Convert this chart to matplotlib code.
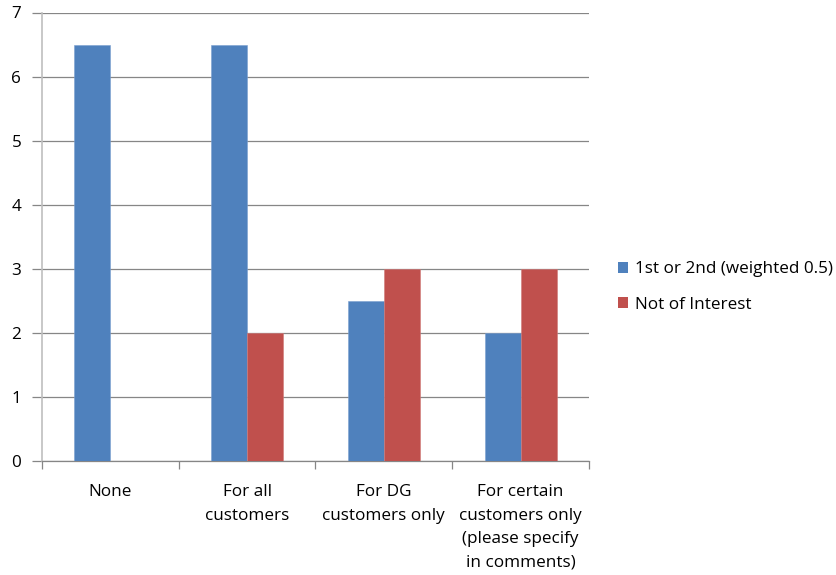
import matplotlib
matplotlib.use("Agg")
import matplotlib.pyplot as plt
import numpy as np
from matplotlib.patches import Patch

plt.rcParams['font.family'] = ['Open Sans', 'DejaVu Sans']

categories = ["None", "For all\ncustomers", "For DG\ncustomers only",
              "For certain\ncustomers only\n(please specify\nin comments)"]
series_names = ["1st or 2nd (weighted 0.5)", "Not of Interest"]
weighted = [6.5, 6.5, 2.5, 2.0]
not_interest = [0, 2, 3, 3]
y_ticks = [0, 1, 2, 3, 4, 5, 6, 7]

blue = "#4F81BD"
red = "#C0504D"
grid_gray = "#868686"
fs = 12.3

fig = plt.figure(figsize=(8.37, 5.75), dpi=100)
ax = fig.add_axes([42/837, 1-461/575, (589-42)/837, (461-12.5)/575])

x = np.arange(len(categories)) + 0.5
w = 0.263
ax.bar(x - w/2, weighted, width=w, color=blue, edgecolor="#7A9FD0", linewidth=0.4, zorder=3)
ax.bar(x + w/2, not_interest, width=w, color=red, edgecolor="#D07A78", linewidth=0.4, zorder=3)

ax.set_xlim(0, 4)
ax.set_ylim(0, 7)
ax.set_yticks(y_ticks)
ax.set_yticklabels([str(t) for t in y_ticks], fontsize=fs, color="#000000")
ax.yaxis.grid(True, color=grid_gray, linewidth=0.9, zorder=0)
ax.set_axisbelow(True)

ax.set_xticks([0, 1, 2, 3, 4])
ax.set_xticklabels([])
ax.set_xticks(x, minor=True)
ax.set_xticklabels(categories, minor=True, fontsize=fs, linespacing=1.64, va="top")
ax.tick_params(axis="x", which="minor", length=0, pad=16.5)
ax.tick_params(axis="x", which="major", length=6, direction="out", color=grid_gray, width=0.9)
ax.tick_params(axis="y", length=7, direction="out", color=grid_gray, width=0.9, pad=8)

for s in ["top", "right"]:
    ax.spines[s].set_visible(False)
ax.spines["left"].set_color("#BFBFBF")
ax.spines["left"].set_linewidth(1.2)
ax.spines["bottom"].set_color(grid_gray)
ax.spines["bottom"].set_linewidth(0.9)

handles = [Patch(facecolor=blue), Patch(facecolor=red)]
fig.legend(handles, series_names, loc="center left", bbox_to_anchor=(609/837, 1-287/575),
           frameon=False, fontsize=fs, handlelength=0.6, handleheight=0.6,
           handletextpad=0.4, labelspacing=1.15, borderpad=0)

fig.savefig("out.png", dpi=100, facecolor="white")
